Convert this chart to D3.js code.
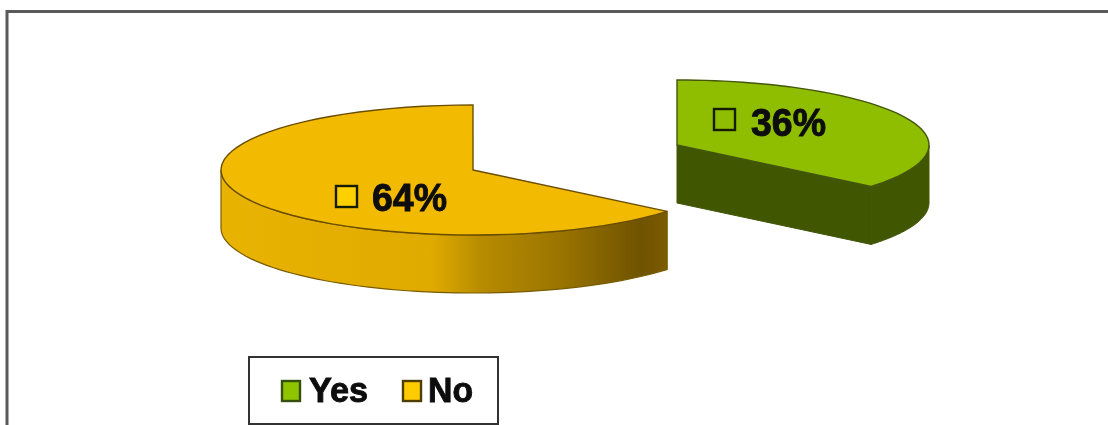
<!DOCTYPE html>
<html><head><meta charset="utf-8">
<style>html,body{margin:0;padding:0;background:#fff}svg{display:block}text{font-family:"Liberation Sans",Arial,sans-serif;font-weight:700;fill:#0c0c0c;stroke:#0c0c0c;stroke-width:.9}</style>
<script src="https://cdn.jsdelivr.net/npm/d3@7/dist/d3.min.js"></script>
</head><body><svg id="c" width="1108" height="425"></svg>
<script>
const categories = ["Yes","No"];
const values = [36,64];
const topColors = ["#8fbe00","#f2ba00"];
const edgeColors = ["#43560a","#6a4e00"];
const sideColors = ["#3f5700","#e6b000"];
const labels = ["36%","64%"];

const W=1108,H=425, rx=252, ry=65, depth=58;
const centers=[[677,145],[473,170]];
const svg=d3.select("#c");
const defs=svg.append("defs");
defs.append("filter").attr("id","soft").attr("filterUnits","userSpaceOnUse").attr("x",-10).attr("y",-10).attr("width",W+20).attr("height",H+20)
  .append("feGaussianBlur").attr("stdDeviation",0.6);
const grad=defs.append("linearGradient").attr("id","wall").attr("gradientUnits","userSpaceOnUse")
  .attr("x1",221).attr("x2",668).attr("y1",0).attr("y2",0);
[[0,"#e8b300"],[0.47,"#e0ab00"],[0.58,"#b88c00"],[0.76,"#9a7400"],[0.94,"#6f5300"],[1,"#7d5c00"]].forEach(([o,c])=>grad.append("stop").attr("offset",o).attr("stop-color",c));

const root=svg.append("g").attr("filter","url(#soft)");
root.append("path").attr("d",d3.line()([[7,440],[7,11.5],[1120,11.5]]))
  .attr("fill","none").attr("stroke","#5a5a5a").attr("stroke-width",3);

const arcs=d3.pie().sort(null).value(d=>d)(values);
const px=d3.scaleLinear().domain([-1,1]).range([-rx,rx]);
const py=d3.scaleLinear().domain([-1,1]).range([-ry,ry]);
const pt=(a,c,dy=0)=>[c[0]+px(Math.sin(a)),c[1]+py(-Math.cos(a))+dy];
const sweep=(a0,a1,c,dy)=>d3.range(0,61).map(i=>pt(a0+(a1-a0)*i/60,c,dy));
const line=d3.line();

arcs.forEach((arc,i)=>{
  const c=centers[i], g=root.append("g");
  const a0=arc.startAngle,a1=arc.endAngle;
  if(i===0){
    const tip=pt(a1,c);
    g.append("path").attr("d",line([c,tip,[tip[0],tip[1]+depth],[c[0],c[1]+depth]])+"Z")
      .attr("fill",sideColors[0]).attr("stroke",edgeColors[0]).attr("stroke-width",1);
    const from=Math.PI/2;
    g.append("path").attr("d",line([...sweep(from,a1,c,0),...sweep(a1,from,c,depth)])+"Z")
      .attr("fill",sideColors[0]).attr("stroke",edgeColors[0]).attr("stroke-width",1);
  } else {
    const to=Math.PI*1.5;
    g.append("path").attr("d",line([...sweep(a0,to,c,0),...sweep(to,a0,c,depth)])+"Z")
      .attr("fill","url(#wall)").attr("stroke","#7a5c00").attr("stroke-width",1.2);
  }
  const top=[c,...sweep(a0,a1,c,0)];
  g.append("path").attr("d",line(top)+"Z").attr("fill",topColors[i])
    .attr("stroke",edgeColors[i]).attr("stroke-width",1.4);
});

const lab=[{sx:714,sy:109,tx:751,ty:135.5},{sx:336,sy:186,tx:372,ty:211}];
lab.forEach((l,i)=>{
  root.append("rect").attr("x",l.sx).attr("y",l.sy).attr("width",21).attr("height",21)
    .attr("fill",i?"#ffd000":topColors[i]).attr("stroke","#141a00").attr("stroke-width",2.4);
  root.append("text").attr("x",l.tx).attr("y",l.ty).attr("font-size",39)
    .attr("textLength",75).attr("lengthAdjust","spacingAndGlyphs").text(labels[i]);
});

root.append("rect").attr("x",249).attr("y",357).attr("width",249).attr("height",67)
  .attr("fill","#fff").attr("stroke","#333").attr("stroke-width",2);
const leg=[{sx:282,tx:309,w:59},{sx:403,tx:428,w:45}];
categories.forEach((n,i)=>{
  root.append("rect").attr("x",leg[i].sx).attr("y",381).attr("width",18).attr("height",20)
    .attr("fill",i?"#ffcc00":"#8fc400").attr("stroke",i?"#4f3e00":"#34500a").attr("stroke-width",2.4);
  root.append("text").attr("x",leg[i].tx).attr("y",402).attr("font-size",35)
    .attr("textLength",leg[i].w).attr("lengthAdjust","spacingAndGlyphs").text(n);
});
</script></body></html>
